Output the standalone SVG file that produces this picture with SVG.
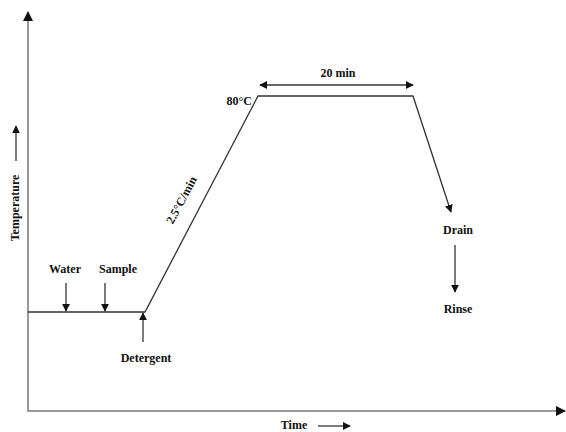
<svg xmlns="http://www.w3.org/2000/svg" width="566" height="432" viewBox="0 0 566 432">
<style>
text{font-family:"Liberation Serif","Times New Roman",serif;font-weight:bold;font-size:12px;fill:#111}
.ax{stroke:#999;stroke-width:2;fill:none}
.ln{stroke:#333;stroke-width:1.3;fill:none}
</style>
<defs>
<marker id="ah" viewBox="0 0 10 10" refX="9" refY="5" markerWidth="8" markerHeight="8" markerUnits="userSpaceOnUse" orient="auto-start-reverse"><path d="M0,0L10,5L0,10z" fill="#111"/></marker>
<marker id="ah2" viewBox="0 0 10 10" refX="9" refY="5" markerWidth="5" markerHeight="5" orient="auto-start-reverse"><path d="M0,0L10,5L0,10z" fill="#111"/></marker>
</defs>
<g id="connectors">
<line class="ax" x1="28" y1="411" x2="28" y2="12" marker-end="url(#ah2)"/>
<line class="ax" x1="27" y1="411" x2="565" y2="411" marker-end="url(#ah2)"/>
<line class="ln" x1="16" y1="161" x2="16" y2="126" stroke="#555" marker-end="url(#ah)"/>
<line class="ln" x1="318" y1="426" x2="350" y2="426" marker-end="url(#ah)"/>
<polyline class="ln" points="28,312 145,312 258,96 413,96 451,212" marker-end="url(#ah)"/>
<line class="ln" x1="260" y1="85" x2="413" y2="85" marker-start="url(#ah)" marker-end="url(#ah)"/>
<line class="ln" x1="66" y1="283" x2="66" y2="311" marker-end="url(#ah)"/>
<line class="ln" x1="105" y1="283" x2="105" y2="311" marker-end="url(#ah)"/>
<line class="ln" x1="143" y1="342" x2="143" y2="313" marker-end="url(#ah)"/>
<line class="ln" x1="455" y1="245" x2="455" y2="292" marker-end="url(#ah)"/>
</g>
<g id="labels">
<text x="16" y="208" text-anchor="middle" transform="rotate(-90 16 208)" dominant-baseline="middle">Temperature</text>
<text x="294" y="429" text-anchor="middle" font-size="11.5">Time</text>
<text x="65" y="273" text-anchor="middle">Water</text>
<text x="118" y="273" text-anchor="middle">Sample</text>
<text x="146" y="362" text-anchor="middle">Detergent</text>
<text x="252" y="105" text-anchor="end">80°C</text>
<text x="338" y="77" text-anchor="middle">20 min</text>
<text x="185" y="202" text-anchor="middle" transform="rotate(-62 185 202)">2.5°C/min</text>
<text x="458" y="234" text-anchor="middle">Drain</text>
<text x="458" y="313" text-anchor="middle">Rinse</text>
</g>
</svg>
